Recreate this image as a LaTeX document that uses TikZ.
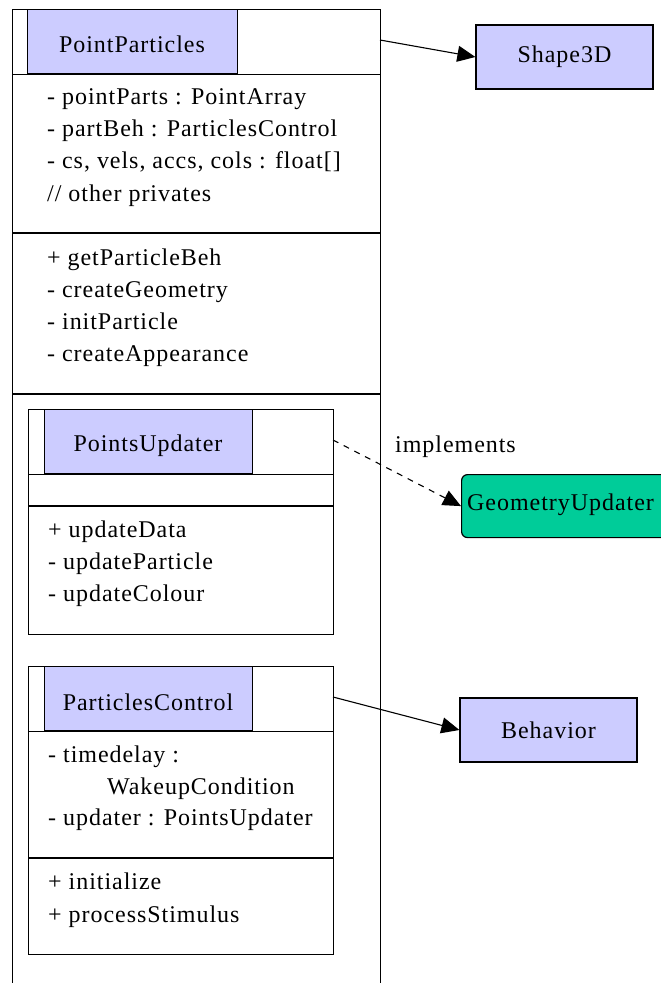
\documentclass[tikz,border=0pt]{standalone}
\usepackage{fontspec}
\newfontfamily\umlfont{LiberationSerif}[Extension=.ttf, UprightFont=*-Regular, LetterSpace=4]
\usetikzlibrary{arrows.meta}
\definecolor{umlblue}{HTML}{CCCCFF}
\definecolor{umlgreen}{HTML}{00CC99}
\begin{document}
\begin{tikzpicture}[x=1pt,y=-1pt,
  txt/.style={font=\umlfont\fontsize{24}{28}\selectfont, inner sep=0pt},
  lt/.style={txt, anchor=mid west},
  frame/.style={draw, line width=1.2pt, inner sep=0pt, anchor=north west},
  head/.style={frame, fill=umlblue},
  sep/.style={line width=1.2pt},
  ext/.style={draw, line width=1.2pt, fill=umlblue, minimum width=177pt, minimum height=64pt, font=\umlfont\fontsize{24}{28}\selectfont, inner sep=0pt},
  conn/.style={line width=1.1pt, -{Triangle[length=18pt,width=16pt]}},
]
\useasboundingbox (0,0) rectangle (661,983);
\clip (0,0) rectangle (661,983);

% ---------- outer class PointParticles ----------
\node[frame, minimum width=368pt, minimum height=1000pt] (pp) at (12,9) {};
\node[head, minimum width=210pt, minimum height=64pt] (ppH) at (27,9) {};
\node[txt] (ppT) at (132,44) {PointParticles};
\draw[sep] (pp.west |- ppH.south) -- (pp.east |- ppH.south);
\coordinate (ppS1) at (12,233);
\coordinate (ppS2) at (12,394);
\draw[sep] (ppS1) -- (pp.east |- ppS1);
\draw[sep] (ppS2) -- (pp.east |- ppS2);
\node[lt] (ppA1) at (47,102) {- pointParts : PointArray};
\node[lt] (ppA2) at (47,134) {- partBeh : ParticlesControl};
\node[lt] (ppA3) at (47,166.5) {- cs, vels, accs, cols : float[]};
\node[lt] (ppA4) at (47,199) {// other privates};
\node[lt] (ppM1) at (47,263) {+ getParticleBeh};
\node[lt] (ppM2) at (47,295) {- createGeometry};
\node[lt] (ppM3) at (47,327) {- initParticle};
\node[lt] (ppM4) at (47,359) {- createAppearance};

% ---------- inner class PointsUpdater ----------
\node[frame, minimum width=305pt, minimum height=225pt] (pu) at (28,409) {};
\node[head, minimum width=208pt, minimum height=64pt] (puH) at (44,409) {};
\node[txt] (puT) at (148,446) {PointsUpdater};
\draw[sep] (pu.west |- puH.south) -- (pu.east |- puH.south);
\coordinate (puS1) at (28,506);
\draw[sep] (puS1) -- (pu.east |- puS1);
\node[lt] (puM1) at (48,535) {+ updateData};
\node[lt] (puM2) at (48,567) {- updateParticle};
\node[lt] (puM3) at (48,599) {- updateColour};

% ---------- inner class ParticlesControl ----------
\node[frame, minimum width=305pt, minimum height=288pt] (pc) at (28,666) {};
\node[head, minimum width=208pt, minimum height=64pt] (pcH) at (44,666) {};
\node[txt] (pcT) at (148,702) {ParticlesControl};
\draw[sep] (pc.west |- pcH.south) -- (pc.east |- pcH.south);
\coordinate (pcS1) at (28,858);
\draw[sep] (pcS1) -- (pc.east |- pcS1);
\node[lt] (pcA1) at (48,760) {- timedelay :};
\node[lt] (pcA2) at (107,792) {WakeupCondition};
\node[lt] (pcA3) at (48,823) {- updater : PointsUpdater};
\node[lt] (pcM1) at (48,887) {+ initialize};
\node[lt] (pcM2) at (48,920) {+ processStimulus};

% ---------- external types ----------
\node[ext] (shape) at (564.5,57) {Shape3D};
\node[ext] (beh) at (548.5,730) {Behavior};
\node[draw, line width=1.2pt, fill=umlgreen, rounded corners=6pt, inner sep=0pt,
      anchor=north west, minimum width=210pt, minimum height=63pt] (geo) at (461,474) {};
\node[lt] (geoT) at (467,508) {GeometryUpdater};

% ---------- connectors ----------
\coordinate (ppR) at (380,40);
\coordinate (puR) at (333,440);
\coordinate (pcR) at (333,697);
\draw[conn] (ppR) -- (shape.west);
\draw[conn] (pcR) -- (beh.west);
\draw[conn, dash pattern=on 6pt off 6pt] (puR) -- (geo.west);
\node[lt] (impl) at (395,450) {implements};
\end{tikzpicture}
\end{document}
